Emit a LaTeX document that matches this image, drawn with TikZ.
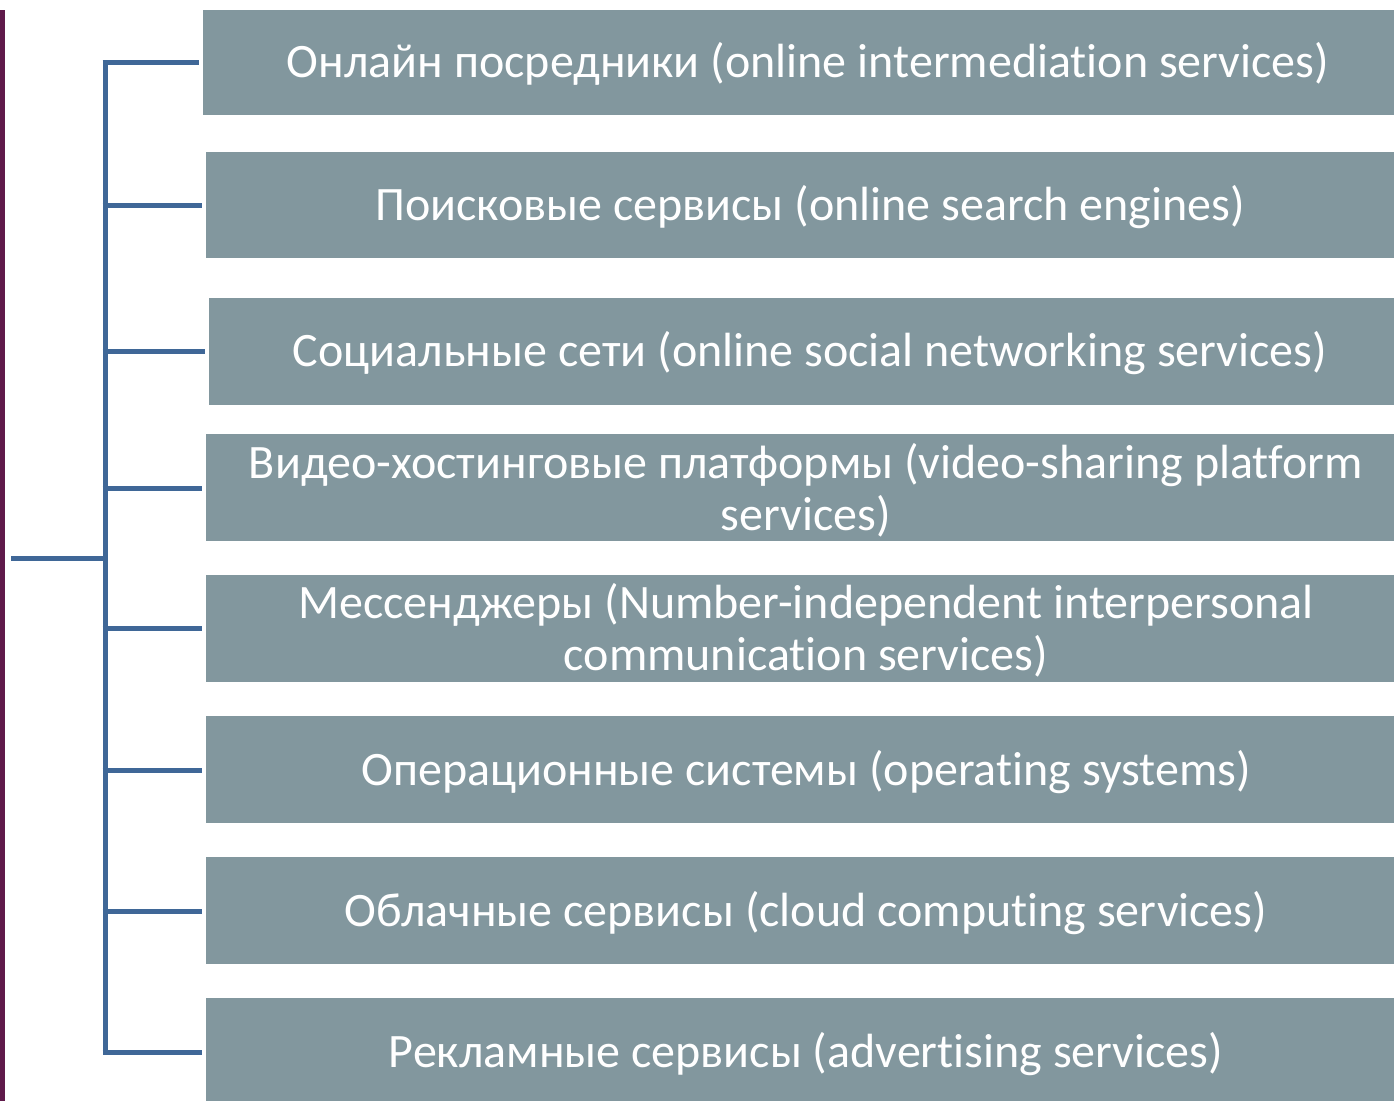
\documentclass[tikz,border=0pt]{standalone}
\usepackage{fontspec}
\setmainfont{Carlito}[Ligatures=NoCommon]
\definecolor{boxgray}{HTML}{82979E}
\definecolor{linkblue}{HTML}{3F6797}
\definecolor{barpurple}{HTML}{5F1A4A}
\begin{document}
\begin{tikzpicture}[x=1pt,y=-1pt,
  cat/.style={fill=boxgray, draw=none, anchor=north west, inner sep=0pt},
  lbl/.style={text=white, font=\fontsize{48}{52}\selectfont, align=center, inner sep=0pt},
  link/.style={draw=linkblue, line width=5pt}]
\useasboundingbox (0,0) rectangle (1394,1101);
\fill[barpurple] (0,10) rectangle (5,1101);
% boxes
\node[cat, minimum width=1191pt, minimum height=105pt] (b1) at (203,10) {};
\node[cat, minimum width=1188pt, minimum height=106pt] (b2) at (206,152) {};
\node[cat, minimum width=1185pt, minimum height=107pt] (b3) at (209,298) {};
\node[cat, minimum width=1188pt, minimum height=107pt] (b4) at (206,434) {};
\node[cat, minimum width=1188pt, minimum height=107pt] (b5) at (206,575) {};
\node[cat, minimum width=1188pt, minimum height=107pt] (b6) at (206,716) {};
\node[cat, minimum width=1188pt, minimum height=107pt] (b7) at (206,857) {};
\node[cat, minimum width=1188pt, minimum height=103pt] (b8) at (206,998) {};
% labels
\node[lbl] (t1) at (808,64) {Онлайн посредники (online intermediation services)};
\node[lbl] (t2) at (810,207) {Поисковые сервисы (online search engines)};
\node[lbl] (t3) at (810,353) {Социальные сети (online social networking services)};
\node[lbl] (t4) at (806,490) {Видео-хостинговые платформы (video-sharing platform\\services)};
\node[lbl] (t5) at (806,630) {Мессенджеры (Number-independent interpersonal\\communication services)};
\node[lbl] (t6) at (806,772) {Операционные системы (operating systems)};
\node[lbl] (t7) at (806,913) {Облачные сервисы (cloud computing services)};
\node[lbl] (t8) at (806,1054) {Рекламные сервисы (advertising services)};
% connectors
\coordinate (root) at (11,558);
\coordinate (top) at (105,62);
\coordinate (bot) at (105,1052);
\coordinate (mid) at (105,558);
\draw[link] (root) -- (mid);
\draw[link] (top) -- (bot);
\foreach \i/\y in {1/62,2/205,3/351,4/488,5/628,6/770,7/911,8/1052}{
  \draw[link] (102.5,\y) -- ([xshift=-4pt]b\i.west |- 0,\y);
}
\end{tikzpicture}
\end{document}
